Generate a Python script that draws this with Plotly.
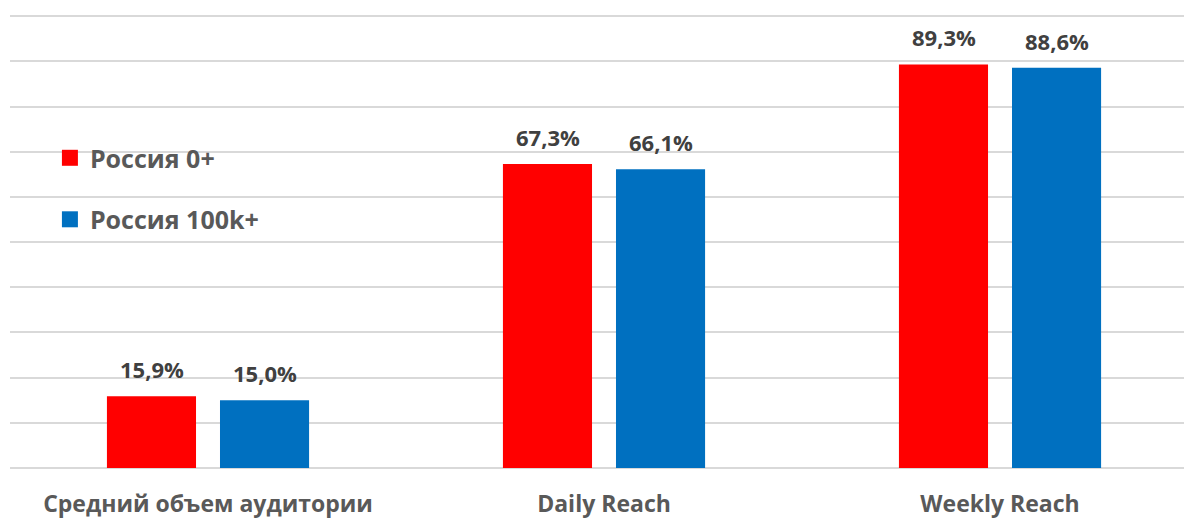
import plotly.graph_objects as go

# ============================================================================
# DATA
# ============================================================================
categories = ["Средний объем аудитории", "Daily Reach", "Weekly Reach"]
series_names = ["Россия 0+", "Россия 100k+"]
russia_all = [15.9, 67.3, 89.3]
russia_100k = [15.0, 66.1, 88.6]
y_ticks = [0, 10, 20, 30, 40, 50, 60, 70, 80, 90, 100]

colors = ["#FF0000", "#0070C0"]
font_family = "Open Sans, Noto Sans, sans-serif"


def fmt(v):
    return f"{v:.1f}%".replace(".", ",")


# ============================================================================
# FIGURE
# ============================================================================
fig = go.Figure()

for name, values, color in zip(series_names, [russia_all, russia_100k], colors):
    fig.add_trace(go.Bar(
        x=categories, y=values, name=name,
        marker=dict(color=color, line=dict(width=0)),
        showlegend=False,
    ))
    # legend swatch (square marker)
    fig.add_trace(go.Scatter(
        x=[None], y=[None], mode="markers", name=f"<b>{name}</b>", legendgroup=name,
        marker=dict(symbol="square", size=16, color=color),
    ))

# data labels above each bar
offsets = [-56.5, 56.5]
for values, dx in zip([russia_all, russia_100k], offsets):
    for cat, v in zip(categories, values):
        fig.add_annotation(
            x=cat, y=v, text=f"<b>{fmt(v)}</b>", showarrow=False,
            xshift=dx, yanchor="bottom", yshift=10,
            font=dict(size=22, color="#404040", family=font_family),
        )

fig.update_layout(
    width=1184, height=519,
    margin=dict(l=10, r=0, t=15, b=51),
    paper_bgcolor="white", plot_bgcolor="white",
    barmode="group", bargap=0.429, bargroupgap=0.212,
    font=dict(family=font_family, color="#595959"),
    legend=dict(
        x=0.034, y=0.735, xanchor="left", yanchor="top",
        font=dict(size=25, color="#595959", family=font_family),
        tracegroupgap=26, itemsizing="trace",
        bgcolor="rgba(0,0,0,0)",
    ),
    xaxis=dict(
        range=[-0.5, 2.4646], showgrid=False, showline=False, ticks="",
        ticklabelstandoff=20,
        tickfont=dict(size=23, color="#595959", family=font_family),
        tickvals=categories, ticktext=[f"<b>{c}</b>" for c in categories],
    ),
    yaxis=dict(
        range=[0, 100.25], tickvals=y_ticks, showticklabels=False,
        showgrid=True, gridcolor="#D9D9D9", gridwidth=1.5,
        zeroline=True, zerolinecolor="#D9D9D9", zerolinewidth=1.5,
        showline=False,
    ),
)

fig.write_html("out.html", config={"displayModeBar": False},
               post_script="document.body.style.margin='0';")
